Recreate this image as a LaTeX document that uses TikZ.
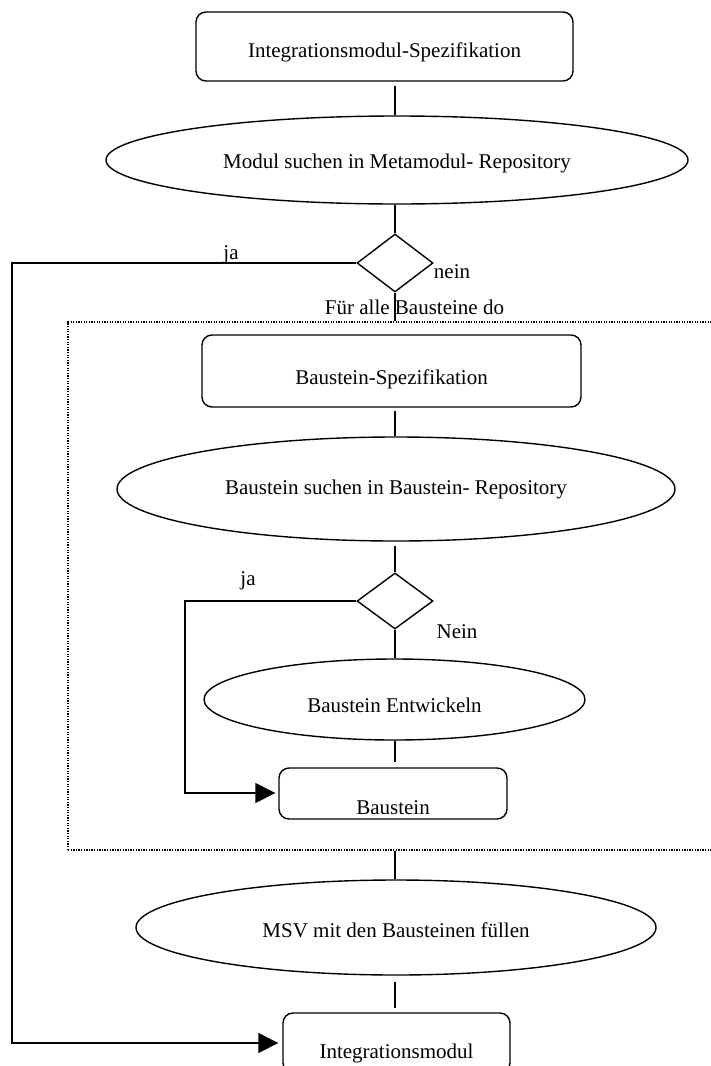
\documentclass[tikz,border=0pt]{standalone}
\usepackage{fontspec}
\setmainfont{Liberation Serif}
\usetikzlibrary{shapes.geometric,arrows.meta,calc}
\newcommand\dnshift[2]{\raisebox{-#1}[\height][\depth]{#2}}
\begin{document}
\begin{tikzpicture}[x=1pt,y=-1pt,
  every node/.style={font=\fontsize{21}{25}\selectfont, inner sep=0pt},
  rbox/.style={draw, line width=1.4pt, rounded corners=10pt, rectangle},
  ell/.style={draw, line width=1.4pt, ellipse},
  dia/.style={draw, line width=1.4pt, diamond, minimum width=76pt, minimum height=58pt},
  loopbox/.style={draw, line width=1.4pt, dash pattern=on 1.3pt off 1.3pt, rectangle},
  conn/.style={line width=1.4pt},
  arr/.style={conn, -{Triangle[length=20pt,width=20pt]}}
]
\useasboundingbox (0,0) rectangle (710,1066);

\node[rbox, minimum width=377pt, minimum height=69pt] (r1) at (384.5,46.5) {\dnshift{6pt}{Integrationsmodul-Spezifikation}};
\node[ell, minimum width=582pt, minimum height=88pt] (e1) at (397,160) {\dnshift{3pt}{Modul suchen in Metamodul- Repository}};
\node[dia] (d1) at (395,263) {};
\node[loopbox, minimum width=644pt, minimum height=528pt] (lb) at (390,586) {};
\node[rbox, minimum width=379pt, minimum height=72pt] (r2) at (391.5,371) {\dnshift{8pt}{Baustein-Spezifikation}};
\node[ell, minimum width=558pt, minimum height=104pt] (e2) at (396,489) {Baustein suchen in Baustein- Repository};
\node[dia, minimum height=56pt] (d2) at (395,601) {};
\node[ell, minimum width=381pt, minimum height=81pt] (e3) at (394.5,699.5) {\dnshift{5.5pt}{Baustein Entwickeln}};
\node[rbox, minimum width=228pt, minimum height=51pt] (r3) at (393,793.5) {\dnshift{14.5pt}{Baustein}};
\node[ell, minimum width=520pt, minimum height=95pt] (e4) at (396,927.5) {\dnshift{2.5pt}{MSV mit den Bausteinen füllen}};
\node[rbox, minimum width=227pt, minimum height=60pt] (r4) at (396.5,1043) {\dnshift{10pt}{Integrationsmodul}};

\node (ja1) at (231,255) {ja};
\node (nein1) at (452,272) {nein};
\node (fuer) at (414.5,307) {Für alle Bausteine do};
\node (ja2) at (248,581) {ja};
\node (nein2) at (457,632) {Nein};

\draw[conn, shorten <=4pt] (d1 |- r1.south) -- (d1 |- e1.north);
\draw[conn] (d1 |- e1.south) -- (d1.north);
\draw[conn] (d1.south) -- (d1 |- lb.north);
\draw[conn, shorten <=3pt] (d1 |- r2.south) -- (d1 |- e2.north);
\draw[conn, shorten <=4pt] (d1 |- e2.south) -- (d2.north);
\draw[conn] (d2.south) -- (d2 |- e3.north);
\draw[conn, shorten >=5pt] (d2 |- e3.south) -- (d2 |- r3.north);
\draw[conn] (d1 |- lb.south) -- (d1 |- e4.north);
\draw[conn, shorten <=6pt, shorten >=4pt] (d1 |- e4.south) -- (d1 |- r4.north);

\coordinate (k1) at (12,263);
\coordinate (k2) at (12,1043);
\draw[arr, shorten >=4pt] (d1.west) -- (k1) -- (k2) -- (k2 -| r4.west);
\coordinate (k3) at (185,601);
\coordinate (k4) at (185,793);
\draw[arr, shorten >=3pt] (d2.west) -- (k3) -- (k4) -- (k4 -| r3.west);
\end{tikzpicture}
\end{document}
